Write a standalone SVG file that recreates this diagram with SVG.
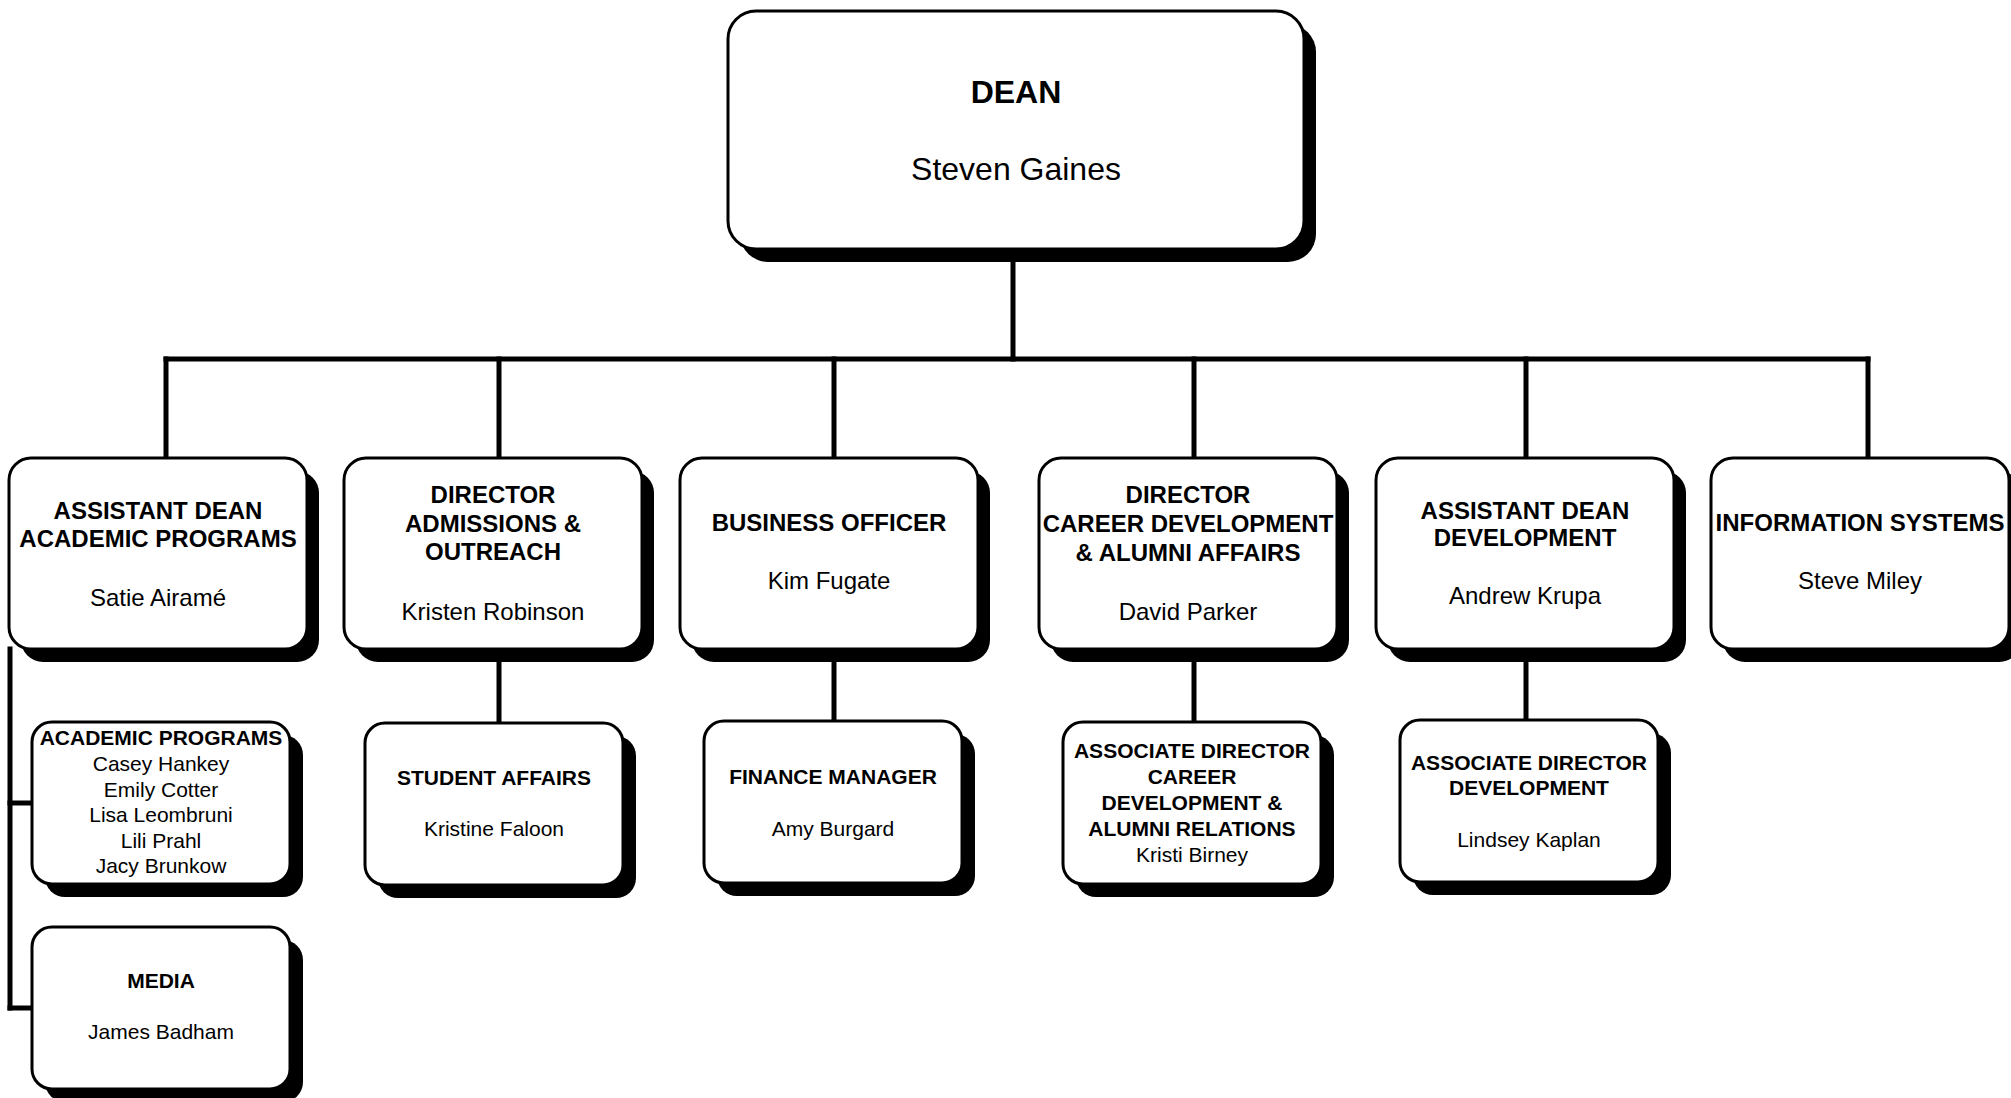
<svg xmlns="http://www.w3.org/2000/svg" width="2011" height="1098" viewBox="0 0 2011 1098">
<style>
.bg{fill:#fff}
.box{fill:#fff;stroke:#000;stroke-width:3}
.sh{fill:#000}
.conn line{stroke:#000;stroke-width:5;stroke-linecap:square}
text{font-family:"Liberation Sans",Arial,Helvetica,sans-serif;text-anchor:middle;fill:#000}
.b{font-weight:bold}
.f32{font-size:32px}
.f24{font-size:24px}
.f21{font-size:21px}
</style>
<rect class="bg" x="0" y="0" width="2011" height="1098"/>
<g id="connectors" class="conn">
<line x1="1013" y1="250" x2="1013" y2="359"/>
<line x1="166" y1="359" x2="1868" y2="359"/>
<line x1="166" y1="359" x2="166" y2="458"/>
<line x1="499" y1="359" x2="499" y2="458"/>
<line x1="834" y1="359" x2="834" y2="458"/>
<line x1="1194" y1="359" x2="1194" y2="458"/>
<line x1="1526" y1="359" x2="1526" y2="458"/>
<line x1="1868" y1="359" x2="1868" y2="458"/>
<line x1="499" y1="649" x2="499" y2="723"/>
<line x1="834" y1="649" x2="834" y2="721"/>
<line x1="1194" y1="649" x2="1194" y2="722"/>
<line x1="1526" y1="649" x2="1526" y2="720"/>
<line x1="10" y1="649" x2="10" y2="1008"/>
<line x1="10" y1="803" x2="32" y2="803"/>
<line x1="10" y1="1008" x2="32" y2="1008"/>
</g>
<g id="dean">
<rect class="sh" x="740" y="24" width="576" height="238" rx="28"/>
<rect class="box" x="728" y="11" width="576" height="238" rx="28"/>
<text class="b f32" x="1016" y="103">DEAN</text>
<text class="f32" x="1016" y="180">Steven Gaines</text>
</g>
<g id="ad-academic">
<rect class="sh" x="21" y="471" width="298" height="191" rx="22"/>
<rect class="box" x="9" y="458" width="298" height="191" rx="22"/>
<text class="b f24" x="158" y="519">ASSISTANT DEAN</text>
<text class="b f24" x="158" y="547">ACADEMIC PROGRAMS</text>
<text class="f24" x="158" y="606">Satie Airamé</text>
</g>
<g id="dir-admissions">
<rect class="sh" x="356" y="471" width="298" height="191" rx="22"/>
<rect class="box" x="344" y="458" width="298" height="191" rx="22"/>
<text class="b f24" x="493" y="503">DIRECTOR</text>
<text class="b f24" x="493" y="532">ADMISSIONS &amp;</text>
<text class="b f24" x="493" y="560">OUTREACH</text>
<text class="f24" x="493" y="620">Kristen Robinson</text>
</g>
<g id="business-officer">
<rect class="sh" x="692" y="471" width="298" height="191" rx="22"/>
<rect class="box" x="680" y="458" width="298" height="191" rx="22"/>
<text class="b f24" x="829" y="531">BUSINESS OFFICER</text>
<text class="f24" x="829" y="589">Kim Fugate</text>
</g>
<g id="dir-career">
<rect class="sh" x="1051" y="471" width="298" height="191" rx="22"/>
<rect class="box" x="1039" y="458" width="298" height="191" rx="22"/>
<text class="b f24" x="1188" y="503">DIRECTOR</text>
<text class="b f24" x="1188" y="532">CAREER DEVELOPMENT</text>
<text class="b f24" x="1188" y="561">&amp; ALUMNI AFFAIRS</text>
<text class="f24" x="1188" y="620">David Parker</text>
</g>
<g id="ad-development">
<rect class="sh" x="1388" y="471" width="298" height="191" rx="22"/>
<rect class="box" x="1376" y="458" width="298" height="191" rx="22"/>
<text class="b f24" x="1525" y="519">ASSISTANT DEAN</text>
<text class="b f24" x="1525" y="546">DEVELOPMENT</text>
<text class="f24" x="1525" y="604">Andrew Krupa</text>
</g>
<g id="info-systems">
<rect class="sh" x="1723" y="471" width="298" height="191" rx="22"/>
<rect class="box" x="1711" y="458" width="298" height="191" rx="22"/>
<text class="b f24" x="1860" y="531">INFORMATION SYSTEMS</text>
<text class="f24" x="1860" y="589">Steve Miley</text>
</g>
<g id="academic-programs">
<rect class="sh" x="45" y="735" width="258" height="162" rx="20"/>
<rect class="box" x="32" y="722" width="258" height="162" rx="20"/>
<text class="b f21" x="161" y="745">ACADEMIC PROGRAMS</text>
<text class="f21" x="161" y="771">Casey Hankey</text>
<text class="f21" x="161" y="797">Emily Cotter</text>
<text class="f21" x="161" y="822">Lisa Leombruni</text>
<text class="f21" x="161" y="848">Lili Prahl</text>
<text class="f21" x="161" y="873">Jacy Brunkow</text>
</g>
<g id="media">
<rect class="sh" x="45" y="940" width="258" height="162" rx="20"/>
<rect class="box" x="32" y="927" width="258" height="162" rx="20"/>
<text class="b f21" x="161" y="988">MEDIA</text>
<text class="f21" x="161" y="1039">James Badham</text>
</g>
<g id="student-affairs">
<rect class="sh" x="378" y="736" width="258" height="162" rx="20"/>
<rect class="box" x="365" y="723" width="258" height="162" rx="20"/>
<text class="b f21" x="494" y="785">STUDENT AFFAIRS</text>
<text class="f21" x="494" y="836">Kristine Faloon</text>
</g>
<g id="finance-manager">
<rect class="sh" x="717" y="734" width="258" height="162" rx="20"/>
<rect class="box" x="704" y="721" width="258" height="162" rx="20"/>
<text class="b f21" x="833" y="784">FINANCE MANAGER</text>
<text class="f21" x="833" y="836">Amy Burgard</text>
</g>
<g id="assoc-dir-career">
<rect class="sh" x="1076" y="735" width="258" height="162" rx="20"/>
<rect class="box" x="1063" y="722" width="258" height="162" rx="20"/>
<text class="b f21" x="1192" y="758">ASSOCIATE DIRECTOR</text>
<text class="b f21" x="1192" y="784">CAREER</text>
<text class="b f21" x="1192" y="810">DEVELOPMENT &amp;</text>
<text class="b f21" x="1192" y="836">ALUMNI RELATIONS</text>
<text class="f21" x="1192" y="862">Kristi Birney</text>
</g>
<g id="assoc-dir-development">
<rect class="sh" x="1413" y="733" width="258" height="162" rx="20"/>
<rect class="box" x="1400" y="720" width="258" height="162" rx="20"/>
<text class="b f21" x="1529" y="770">ASSOCIATE DIRECTOR</text>
<text class="b f21" x="1529" y="795">DEVELOPMENT</text>
<text class="f21" x="1529" y="847">Lindsey Kaplan</text>
</g>
</svg>
